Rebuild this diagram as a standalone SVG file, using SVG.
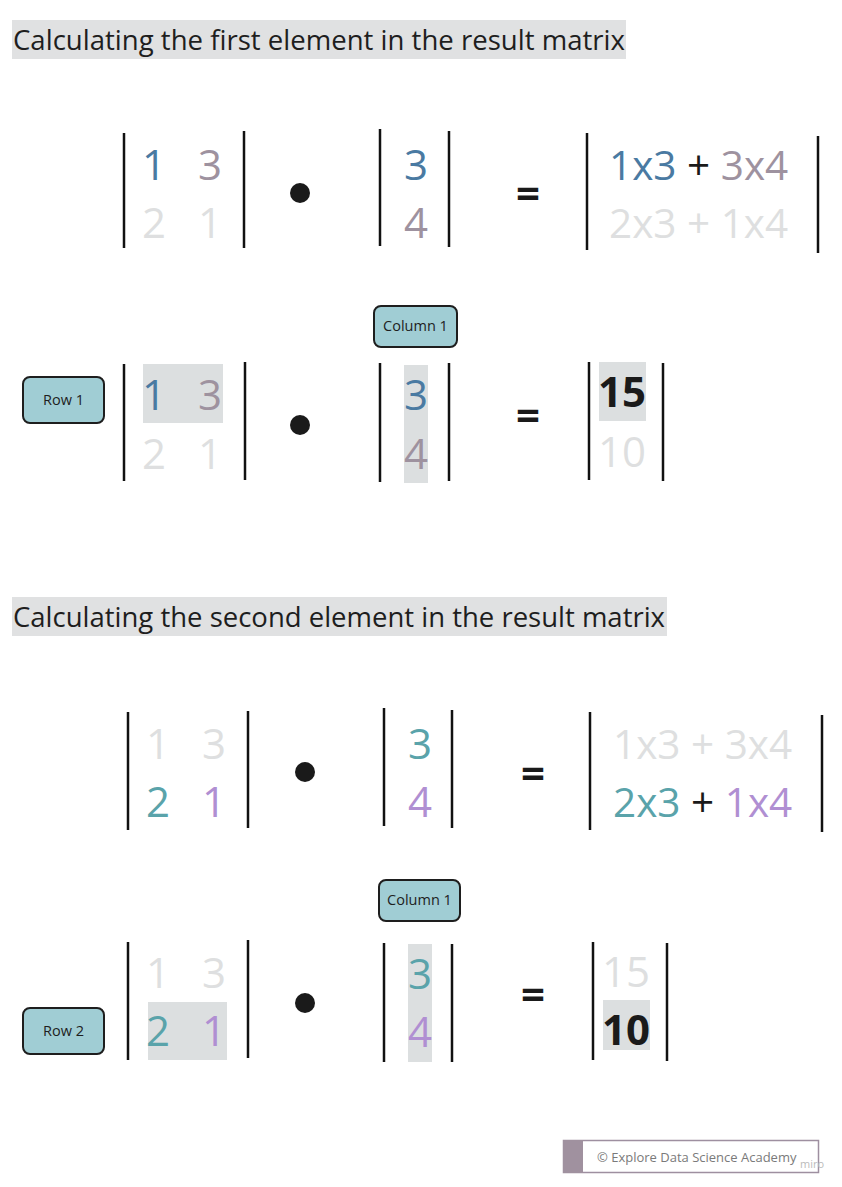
<svg xmlns="http://www.w3.org/2000/svg" width="842" height="1187" viewBox="0 0 842 1187">
<style>
text{font-family:"Open Sans","Noto Sans","Liberation Sans",sans-serif}
.title{font-size:27.5px;fill:#1e1e1e}
.tbg{fill:#e0e1e2}
.bar{stroke:#111;stroke-width:2.5;fill:none}
.num{font-size:42px;text-anchor:middle}
.expr{font-size:40.5px}
.blue{fill:#4a7aa2}
.mauve{fill:#9e929f}
.light{fill:#dedfe0}
.teal{fill:#5aa3aa}
.purple{fill:#b08fd2}
.dark{fill:#1a1a1a}
.hl{fill:#dcdfe0}
.tag rect{fill:#a0cdd4;stroke:#1e1e1e;stroke-width:2}
.tag text{font-size:14.5px;fill:#1e1e1e;text-anchor:middle}
.eq{font-size:42px;font-weight:bold;fill:#1a1a1a;text-anchor:middle}
.bold{font-weight:bold;fill:#1a1a1a}
</style>

<g id="title1">
<rect class="tbg" x="12" y="20" width="614" height="39"/>
<text class="title" x="13" y="50" textLength="612" lengthAdjust="spacingAndGlyphs">Calculating the first element in the result matrix</text>
</g>

<g id="matrixA1">
<line class="bar" x1="124" y1="133" x2="124" y2="248"/>
<line class="bar" x1="244" y1="131" x2="244" y2="248"/>
<text class="num blue" x="154" y="180">1</text>
<text class="num mauve" x="210" y="180">3</text>
<text class="num light" x="154" y="238">2</text>
<text class="num light" x="210" y="238">1</text>
</g>
<g id="dot1"><circle cx="300" cy="193" r="10" fill="#1a1a1a"/></g>
<g id="vectorB1">
<line class="bar" x1="380" y1="129" x2="380" y2="246"/>
<line class="bar" x1="449" y1="131" x2="449" y2="247"/>
<text class="num blue" x="416" y="180">3</text>
<text class="num mauve" x="416" y="238">4</text>
</g>
<g id="eq1"><text class="eq" x="528" y="208">=</text></g>
<g id="result1">
<line class="bar" x1="587" y1="133" x2="587" y2="250"/>
<line class="bar" x1="818" y1="136" x2="818" y2="253"/>
<text class="expr" x="609" y="180"><tspan class="blue">1x3</tspan><tspan class="dark"> + </tspan><tspan class="mauve">3x4</tspan></text>
<text class="expr light" x="609" y="238">2x3 + 1x4</text>
</g>

<g id="col1a" class="tag">
<rect x="374" y="306" width="83" height="41" rx="7"/>
<text x="415.5" y="331">Column 1</text>
</g>
<g id="row1" class="tag">
<rect x="23" y="377" width="81" height="46" rx="7"/>
<text x="63.5" y="405">Row 1</text>
</g>
<g id="matrixA2">
<rect class="hl" x="143" y="364" width="80" height="59"/>
<line class="bar" x1="124" y1="364" x2="124" y2="481"/>
<line class="bar" x1="245" y1="362" x2="245" y2="480"/>
<text class="num blue" x="154" y="410">1</text>
<text class="num mauve" x="210" y="410">3</text>
<text class="num light" x="154" y="469">2</text>
<text class="num light" x="210" y="469">1</text>
</g>
<g id="dot2"><circle cx="300" cy="425" r="10" fill="#1a1a1a"/></g>
<g id="vectorB2">
<rect class="hl" x="404" y="365" width="24" height="118"/>
<line class="bar" x1="380" y1="363" x2="380" y2="482"/>
<line class="bar" x1="449" y1="363" x2="449" y2="481"/>
<text class="num blue" x="416" y="410">3</text>
<text class="num mauve" x="416" y="469">4</text>
</g>
<g id="eq2"><text class="eq" x="528" y="430">=</text></g>
<g id="result2">
<rect class="hl" x="599" y="362" width="47" height="59"/>
<line class="bar" x1="589" y1="362" x2="589" y2="480"/>
<line class="bar" x1="663" y1="363" x2="663" y2="481"/>
<text class="num bold" x="622" y="407">15</text>
<text class="num light" x="622" y="467">10</text>
</g>

<g id="title2">
<rect class="tbg" x="12" y="597" width="655" height="39"/>
<text class="title" x="13" y="627" textLength="652" lengthAdjust="spacingAndGlyphs">Calculating the second element in the result matrix</text>
</g>

<g id="matrixA3">
<line class="bar" x1="128" y1="712" x2="128" y2="830"/>
<line class="bar" x1="248" y1="711" x2="248" y2="828"/>
<text class="num light" x="158" y="759">1</text>
<text class="num light" x="214" y="759">3</text>
<text class="num teal" x="158" y="817">2</text>
<text class="num purple" x="214" y="817">1</text>
</g>
<g id="dot3"><circle cx="305" cy="772" r="10" fill="#1a1a1a"/></g>
<g id="vectorB3">
<line class="bar" x1="384" y1="708" x2="384" y2="826"/>
<line class="bar" x1="452" y1="710" x2="452" y2="828"/>
<text class="num teal" x="420" y="759">3</text>
<text class="num purple" x="420" y="817">4</text>
</g>
<g id="eq3"><text class="eq" x="533" y="788">=</text></g>
<g id="result3">
<line class="bar" x1="590" y1="712" x2="590" y2="830"/>
<line class="bar" x1="822" y1="715" x2="822" y2="832"/>
<text class="expr light" x="613" y="759">1x3 + 3x4</text>
<text class="expr" x="613" y="817"><tspan class="teal">2x3</tspan><tspan class="dark"> + </tspan><tspan class="purple">1x4</tspan></text>
</g>

<g id="col1b" class="tag">
<rect x="379" y="880" width="81" height="41" rx="7"/>
<text x="419.5" y="905">Column 1</text>
</g>
<g id="row2" class="tag">
<rect x="23" y="1008" width="81" height="46" rx="7"/>
<text x="63.5" y="1036">Row 2</text>
</g>
<g id="matrixA4">
<rect class="hl" x="148" y="1002" width="79" height="58"/>
<line class="bar" x1="128" y1="942" x2="128" y2="1060"/>
<line class="bar" x1="248" y1="940" x2="248" y2="1058"/>
<text class="num light" x="158" y="988">1</text>
<text class="num light" x="214" y="988">3</text>
<text class="num teal" x="158" y="1046">2</text>
<text class="num purple" x="214" y="1046">1</text>
</g>
<g id="dot4"><circle cx="305" cy="1003" r="10" fill="#1a1a1a"/></g>
<g id="vectorB4">
<rect class="hl" x="408" y="944" width="24" height="118"/>
<line class="bar" x1="384" y1="943" x2="384" y2="1062"/>
<line class="bar" x1="452" y1="944" x2="452" y2="1062"/>
<text class="num teal" x="420" y="989">3</text>
<text class="num purple" x="420" y="1047">4</text>
</g>
<g id="eq4"><text class="eq" x="533" y="1009">=</text></g>
<g id="result4">
<rect class="hl" x="603" y="1000" width="47" height="50"/>
<line class="bar" x1="593" y1="942" x2="593" y2="1060"/>
<line class="bar" x1="667" y1="943" x2="667" y2="1061"/>
<text class="num light" x="626" y="987">15</text>
<text class="num bold" x="626" y="1045">10</text>
</g>

<g id="footer">
<rect x="563.5" y="1140.5" width="255" height="32" fill="#fff" stroke="#9e8fa0" stroke-width="1.5"/>
<rect x="563" y="1140" width="20" height="33" fill="#a0919f"/>
<text x="597" y="1162" font-size="13" fill="#7a7a7a">© Explore Data Science Academy</text>
<text x="800" y="1168" font-size="11" fill="#bbbbbb">miro</text>
</g>
</svg>
